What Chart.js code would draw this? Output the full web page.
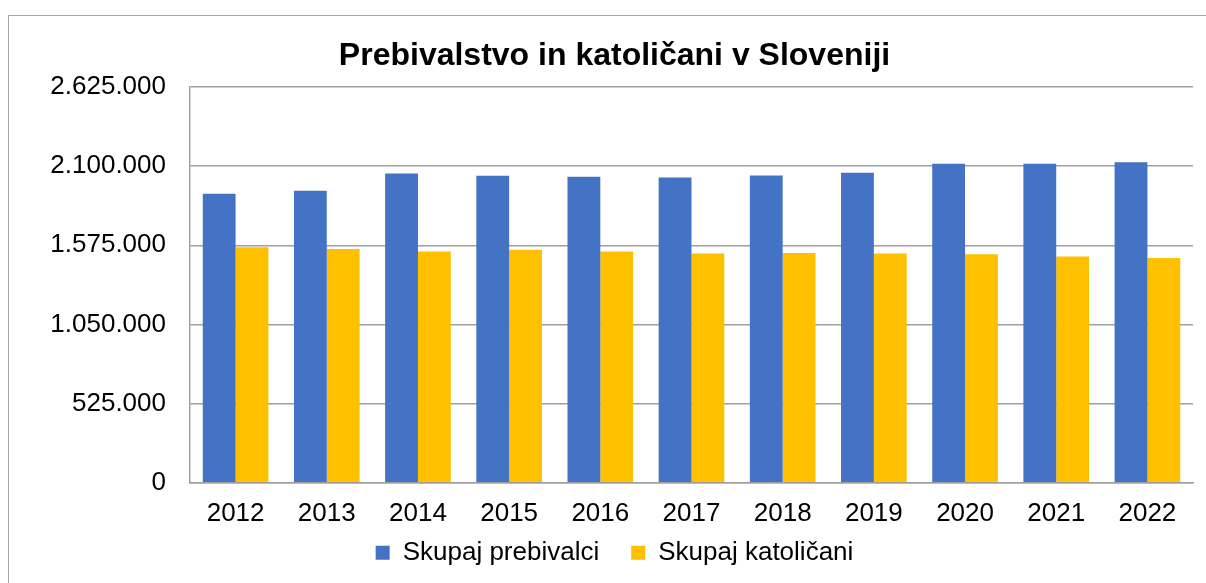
<!DOCTYPE html>
<html>
<head>
<meta charset="utf-8">
<script src="https://cdn.jsdelivr.net/npm/chart.js@4.4.1/dist/chart.umd.min.js"></script>
<style>
  html, body { margin: 0; padding: 0; background: #fff; }
  #wrap { position: relative; width: 1206px; height: 583px; overflow: hidden; }
  #frame { position: absolute; left: 8px; top: 15px; width: 1220px; height: 600px; border: 1.5px solid #a6a6a6; box-sizing: border-box; }
  canvas { position: absolute; left: 0; top: 0; }
</style>
</head>
<body>
<div id="wrap">
  <div id="frame"></div>
  <canvas id="c" width="1206" height="583"></canvas>
</div>
<script>
const categories = ['2012','2013','2014','2015','2016','2017','2018','2019','2020','2021','2022'];
const prebivalci = [1917000, 1937000, 2051000, 2036000, 2030000, 2025000, 2038000, 2056000, 2116000, 2116000, 2125000];
const katolicani = [1562000, 1551000, 1533000, 1546000, 1533000, 1520000, 1524000, 1520000, 1515000, 1500000, 1491000];
const seriesNames = ['Skupaj prebivalci', 'Skupaj katoličani'];
const yTicks = [0, 525000, 1050000, 1575000, 2100000, 2625000];

const FONT = "'Liberation Sans', Arial, sans-serif";
const fmt = v => v === 0 ? '0' : v.toString().replace(/\B(?=(\d{3})+(?!\d))/g, '.');

const legendPlacePlugin = {
  id: 'legendPlace',
  beforeLayout(chart) {
    const lg = chart.legend;
    if (lg && !lg._patched) {
      const f = lg.fit;
      lg.fit = function () { f.call(this); this.height = 50.3; };
      lg._patched = true;
    }
  },
  afterLayout(chart) {
    const lg = chart.legend;
    if (lg) { lg.top -= 25; }
  }
};

new Chart(document.getElementById('c'), {
  type: 'bar',
  data: {
    labels: categories,
    datasets: [
      { label: seriesNames[0], data: prebivalci, backgroundColor: '#4472C4', borderWidth: 0 },
      { label: seriesNames[1], data: katolicani, backgroundColor: '#FFC000', borderWidth: 0 }
    ]
  },
  plugins: [legendPlacePlugin],
  options: {
    responsive: false,
    animation: false,
    devicePixelRatio: 1,
    layout: { padding: { left: 36, right: 13, top: 0, bottom: 0 } },
    datasets: { bar: { categoryPercentage: 0.72, barPercentage: 1.0 } },
    plugins: {
      title: {
        display: true,
        text: 'Prebivalstvo in katoličani v Sloveniji',
        color: '#000',
        font: { family: FONT, size: 32, weight: 'bold', lineHeight: 1.2 },
        padding: { top: 37, bottom: 11.6 }
      },
      legend: {
        position: 'bottom',
        labels: {
          color: '#000',
          font: { family: FONT, size: 26 },
          boxWidth: 14, boxHeight: 14,
          padding: 32
        }
      },
      tooltip: { enabled: false }
    },
    scales: {
      x: {
        afterFit: s => { s.height = 50; },
        grid: { display: false, drawTicks: false },
        border: { display: true, color: '#a0a0a0', width: 1.5 },
        ticks: { color: '#000', font: { family: FONT, size: 26 }, padding: 16, maxRotation: 0 }
      },
      y: {
        min: 0, max: 2625000,
        afterFit: s => { s.width = 154; },
        afterBuildTicks: s => { s.ticks = yTicks.map(v => ({ value: v })); },
        grid: { color: '#a0a0a0', lineWidth: 1.5, drawTicks: false },
        border: { display: true, color: '#a0a0a0', width: 1.5 },
        ticks: { color: '#000', font: { family: FONT, size: 26 }, padding: 24, callback: v => fmt(v) }
      }
    }
  }
});
</script>
</body>
</html>
